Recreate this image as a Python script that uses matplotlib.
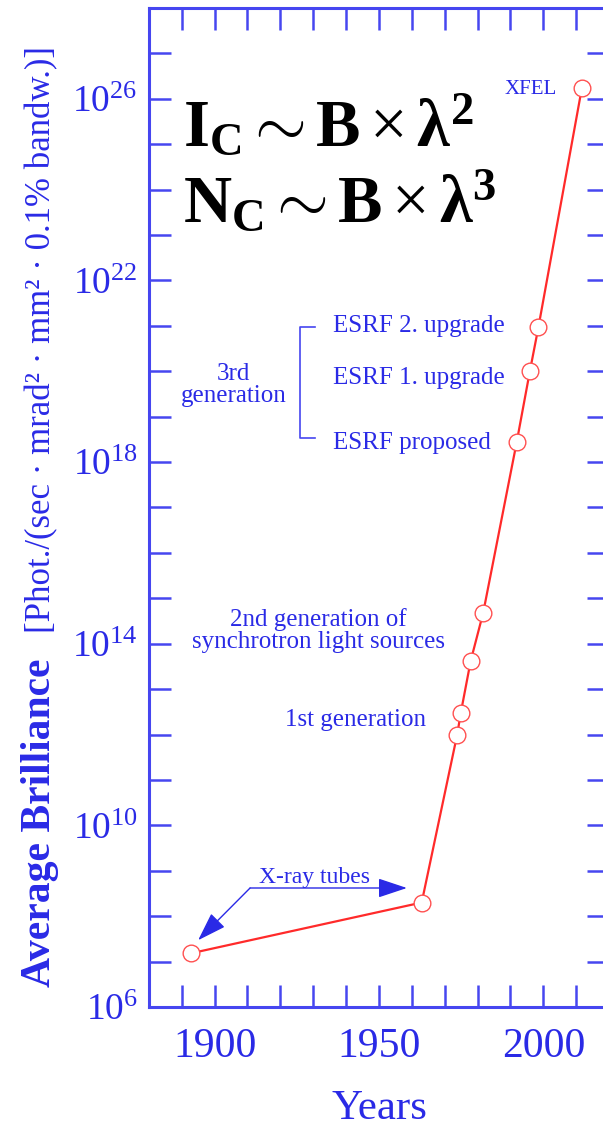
import matplotlib
matplotlib.use('Agg')
import matplotlib.pyplot as plt
from matplotlib.ticker import FixedLocator, FixedFormatter

# brilliance of x-ray sources over the years (log10 values)
years = [1892.7, 1963.0, 1973.8, 1974.9, 1977.9, 1981.7, 1991.9, 1995.9, 1998.5, 2011.7]
log_brilliance = [7.18, 8.30, 12.0, 12.48, 13.62, 14.68, 18.44, 20.0, 20.97, 26.23]
brilliance = [10 ** v for v in log_brilliance]

year_ticks = list(range(1880, 2021, 10))
year_labels = ['1900', '1950', '2000']
decade_ticks = list(range(6, 29))
decade_labels = [6, 10, 14, 18, 22, 26]

plt.rcParams['mathtext.fontset'] = 'custom'
plt.rcParams['mathtext.rm'] = 'Liberation Serif'
plt.rcParams['mathtext.it'] = 'Liberation Serif:italic'
plt.rcParams['mathtext.bf'] = 'Liberation Serif:bold'
plt.rcParams['font.family'] = ['Liberation Serif', 'DejaVu Serif']

BLUE = '#2a2ae6'
AXBLUE = '#4646f0'
RED = '#ff2a2a'

fig = plt.figure(figsize=(6.03, 11.28), dpi=100)
ax = fig.add_axes([0.2468, 0.1073, 0.7633, 0.8856])

ax.plot(years, brilliance, color=RED, lw=1.6, marker='o', ms=12,
        mfc='white', mec='#ff5050', mew=1.0, zorder=3)

ax.set_yscale('log')
ax.set_xlim(1880, 2020)
ax.set_ylim(1e6, 1e28)

# ticks inward on all four sides, every 10 years / every decade
ax.xaxis.set_major_locator(FixedLocator(year_ticks))
ax.xaxis.set_major_formatter(FixedFormatter(
    [str(y) if str(y) in year_labels else '' for y in year_ticks]))
ax.yaxis.set_major_locator(FixedLocator([10.0 ** d for d in decade_ticks]))
ax.yaxis.set_major_formatter(FixedFormatter(
    [r'$10^{%d}$' % d if d in decade_labels else '' for d in decade_ticks]))
ax.yaxis.set_minor_locator(FixedLocator([]))
ax.tick_params(which='both', direction='in', top=True, right=True,
               length=16, width=1.8, color=AXBLUE, labelcolor=BLUE)
ax.tick_params(axis='x', labelsize=30, pad=15)
ax.tick_params(axis='y', labelsize=27, pad=8)
for s in ax.spines.values():
    s.set_color(AXBLUE)
    s.set_linewidth(2.2)

ax.set_xlabel('Years', fontsize=31, color=BLUE, labelpad=17)

# y axis title: bold part plus units
fig.text(50 / 603, 1 - 987 / 1128, 'Average Brilliance', rotation=90,
         rotation_mode='anchor', ha='left', va='baseline',
         fontsize=30, fontweight='bold', color=BLUE)
fig.text(50 / 603, 1 - 633 / 1128, '[Phot./(sec · mrad² · mm² · 0.1% bandw.)]',
         rotation=90, rotation_mode='anchor', ha='left', va='baseline',
         fontsize=25, color=BLUE)

# scaling relations
fig.text(183 / 603, 1 - 146 / 1128,
         r'$\mathbf{I}_{\mathbf{C}}\mathbf{\sim}\mathbf{B}\times\mathbf{\lambda}^{\mathbf{2}}$',
         fontsize=48, color='black', ha='left', va='baseline')
fig.text(183 / 603, 1 - 222 / 1128,
         r'$\mathbf{N}_{\mathbf{C}}\mathbf{\sim}\mathbf{B}\times\mathbf{\lambda}^{\mathbf{3}}$',
         fontsize=48, color='black', ha='left', va='baseline')

# source labels
lab = dict(color=BLUE, fontsize=18, va='center')
ax.text(2004.1, 10 ** 26.2, 'XFEL', ha='right', **{**lab, 'fontsize': 15})
ax.text(1936.0, 10 ** 21.0, 'ESRF 2. upgrade', ha='left', **lab)
ax.text(1936.0, 10 ** 19.86, 'ESRF 1. upgrade', ha='left', **lab)
ax.text(1936.0, 10 ** 18.43, 'ESRF proposed', ha='left', **lab)
ax.text(1905.7, 10 ** 19.69, '3rd\ngeneration', ha='center', linespacing=1.0, **lab)
ax.plot([1930.6, 1926.0, 1926.0, 1930.6],
        [10 ** 20.98, 10 ** 20.98, 10 ** 18.54, 10 ** 18.54],
        color=AXBLUE, lw=1.2)
ax.text(1931.5, 10 ** 14.29, '2nd generation of\nsynchrotron light sources',
        ha='center', linespacing=1.0, **lab)
ax.text(1943.0, 10 ** 12.31, '1st generation', ha='center', **lab)

# x-ray tubes callout with two arrows
corner = (1910.8, 10 ** 8.62)
arrow = dict(arrowstyle='-|>,head_length=0.9,head_width=0.3', color=BLUE,
             lw=1.0, mutation_scale=20, shrinkA=0, shrinkB=0)
ax.annotate('', xy=(1895.0, 10 ** 7.47), xytext=corner, arrowprops=arrow)
ax.annotate('', xy=(1958.5, 10 ** 8.62), xytext=corner, arrowprops=arrow)
ax.text(1930.5, 10 ** 8.86, 'X-ray tubes', ha='center', va='center',
        color=BLUE, fontsize=17)

fig.savefig('out.png', dpi=100)
